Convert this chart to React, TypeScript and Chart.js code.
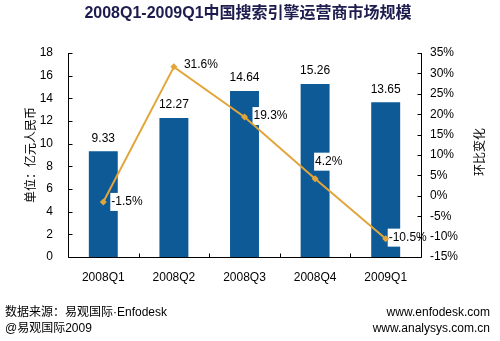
import React, { useEffect, useRef } from "react";
import { Chart, registerables } from "chart.js";

Chart.register(...registerables);

const categories = ["2008Q1", "2008Q2", "2008Q3", "2008Q4", "2009Q1"];
const revenue = [9.33, 12.27, 14.64, 15.26, 13.65];
const growth = [-1.5, 31.6, 19.3, 4.2, -10.5];
const revenueTicks = [0, 2, 4, 6, 8, 10, 12, 14, 16, 18];
const growthTicks = [-15, -10, -5, 0, 5, 10, 15, 20, 25, 30, 35];

const TITLE = "2008Q1-2009Q1中国搜索引擎运营商市场规模";
const LEFT_TITLE = "单位：亿元人民币";
const RIGHT_TITLE = "环比变化";

// label offsets (style) for line labels: [dx, dy]
const lineLabelOffsets: [number, number][] = [
  [8, 0],
  [10, -2],
  [9, -1],
  [0, -17],
  [3, -1],
];

const BAR_COLOR = "#0D5A97";
const LINE_COLOR = "#E2A53A";
const NUM_FONT = "'Liberation Sans', Arial, 'Noto Sans CJK SC', sans-serif";
const CJK_FONT = "'Noto Sans CJK SC', 'Liberation Sans', sans-serif";

const decorPlugin = {
  id: "decor",
  afterDatasetDraw(chart: any, args: any) {
    if (args.index !== 0) return;
    const ctx = chart.ctx;
    const meta = chart.getDatasetMeta(1);
    ctx.save();
    ctx.font = `12px ${NUM_FONT}`;
    ctx.textBaseline = "middle";
    ctx.textAlign = "left";
    meta.data.forEach((pt: any, i: number) => {
      const txt = growth[i].toFixed(1) + "%";
      const [dx, dy] = lineLabelOffsets[i];
      const x = pt.x + dx;
      const y = pt.y + dy;
      const w = ctx.measureText(txt).width;
      ctx.fillStyle = "#fff";
      ctx.fillRect(x - 1, y - 9, w + 2, 18);
      ctx.fillStyle = "#000";
      ctx.fillText(txt, x, y);
    });
    ctx.restore();
  },
  afterDraw(chart: any) {
    const ctx = chart.ctx;
    const area = chart.chartArea;
    const ys = chart.scales.y;
    const y1 = chart.scales.y1;
    ctx.save();

    // axis lines & inside ticks
    ctx.strokeStyle = "#000";
    ctx.lineWidth = 1;
    ctx.beginPath();
    const L = Math.round(area.left) + 0.5;
    const R = Math.round(area.right) + 0.5;
    const B = Math.round(area.bottom) + 0.5;
    const T = Math.round(area.top);
    ctx.moveTo(L, T);
    ctx.lineTo(L, B);
    ctx.lineTo(R, B);
    ctx.moveTo(R, T);
    ctx.lineTo(R, B);
    revenueTicks.forEach((v) => {
      const y = Math.round(ys.getPixelForValue(v)) + 0.5;
      ctx.moveTo(L, y);
      ctx.lineTo(L + 4, y);
    });
    growthTicks.forEach((v) => {
      const y = Math.round(y1.getPixelForValue(v)) + 0.5;
      ctx.moveTo(R, y);
      ctx.lineTo(R - 4, y);
    });
    const step = (area.right - area.left) / categories.length;
    for (let k = 1; k < categories.length; k++) {
      const x = Math.round(area.left + step * k) + 0.5;
      ctx.moveTo(x, B);
      ctx.lineTo(x, B - 4);
    }
    ctx.stroke();

    // bar value labels
    const barMeta = chart.getDatasetMeta(0);
    ctx.fillStyle = "#000";
    ctx.font = `12px ${NUM_FONT}`;
    ctx.textAlign = "center";
    ctx.textBaseline = "middle";
    barMeta.data.forEach((bar: any, i: number) => {
      ctx.fillText(revenue[i].toFixed(2), bar.x, bar.y - 13);
    });

    // title
    ctx.fillStyle = "#1C1C4E";
    ctx.font = `bold 16px ${NUM_FONT}`;
    ctx.textAlign = "center";
    ctx.fillText(TITLE, 248, 14);

    // axis titles
    ctx.fillStyle = "#000";
    ctx.font = `12px ${CJK_FONT}`;
    ctx.save();
    ctx.translate(30, (area.top + area.bottom) / 2);
    ctx.rotate(-Math.PI / 2);
    ctx.fillText(LEFT_TITLE, 0, 0);
    ctx.restore();
    ctx.save();
    ctx.translate(479, 152);
    ctx.rotate(-Math.PI / 2);
    ctx.fillText(RIGHT_TITLE, 0, 0);
    ctx.restore();

    // footer
    ctx.font = `12px ${NUM_FONT}`;
    ctx.textAlign = "left";
    ctx.fillText("数据来源：易观国际·Enfodesk", 5, 313);
    ctx.fillText("@易观国际2009", 5, 329);
    ctx.textAlign = "right";
    ctx.fillText("www.enfodesk.com", 490, 313);
    ctx.fillText("www.analysys.com.cn", 490, 329);

    ctx.restore();
  },
};

export default function App() {
  const ref = useRef<HTMLCanvasElement | null>(null);
  useEffect(() => {
    if (!ref.current) return;
    const chart = new Chart(ref.current, {
      type: "bar",
      data: {
        labels: categories,
        datasets: [
          {
            type: "bar",
            data: revenue,
            backgroundColor: BAR_COLOR,
            yAxisID: "y",
            categoryPercentage: 1,
            barPercentage: 0.41,
            order: 2,
          },
          {
            type: "line",
            data: growth,
            borderColor: LINE_COLOR,
            backgroundColor: LINE_COLOR,
            borderWidth: 2,
            pointStyle: "rectRot",
            pointRadius: 3.5,
            pointBorderWidth: 0,
            yAxisID: "y1",
            tension: 0,
            order: 1,
          } as any,
        ],
      },
      options: {
        responsive: false,
        animation: false,
        devicePixelRatio: 1,
        layout: { padding: { top: 53, left: 0, right: 0, bottom: 0 } },
        plugins: {
          legend: { display: false },
          tooltip: { enabled: false },
          title: { display: false },
        },
        scales: {
          x: {
            type: "category",
            offset: true,
            grid: { display: false, drawTicks: false },
            border: { display: false },
            ticks: {
              color: "#000",
              font: { family: NUM_FONT, size: 12 },
              padding: 13,
              maxRotation: 0,
            },
            afterFit: (s: any) => {
              s.height = 84;
            },
          },
          y: {
            position: "left",
            min: 0,
            max: 18,
            grid: { display: false, drawTicks: false },
            border: { display: false },
            ticks: {
              stepSize: 2,
              color: "#000",
              font: { family: NUM_FONT, size: 12 },
              padding: 15,
            },
            afterFit: (s: any) => {
              s.width = 68;
            },
          },
          y1: {
            position: "right",
            min: -15,
            max: 35,
            grid: { display: false, drawTicks: false },
            border: { display: false },
            ticks: {
              stepSize: 5,
              color: "#000",
              font: { family: NUM_FONT, size: 12 },
              padding: 9,
              callback: (v: any) => v + "%",
            },
            afterFit: (s: any) => {
              s.width = 79;
            },
          },
        },
      },
      plugins: [decorPlugin],
    });
    return () => chart.destroy();
  }, []);
  return (
    <div style={{ position: "fixed", left: 0, top: 0, width: 500, height: 341, background: "#fff" }}>
      <canvas ref={ref} width={500} height={341} />
    </div>
  );
}
